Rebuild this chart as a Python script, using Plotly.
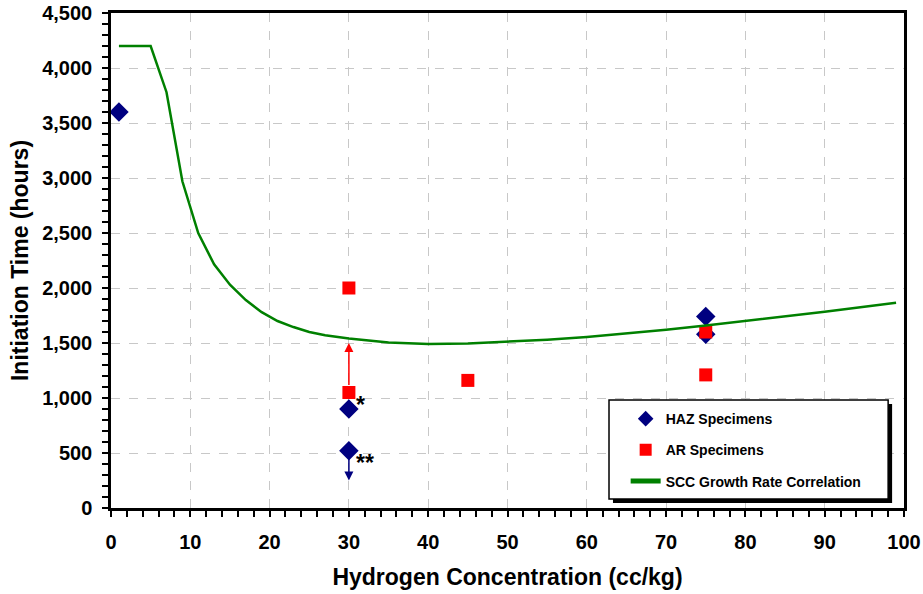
import plotly.graph_objects as go

# Hydrogen concentration (cc/kg) vs. initiation time (hours)
haz_h2 = [1, 30, 30, 75, 75]
haz_time = [3600, 900, 520, 1740, 1580]

ar_h2 = [30, 30, 45, 75, 75]
ar_time = [2000, 1050, 1160, 1600, 1210]

# SCC growth-rate based correlation curve
corr_h2 = [1, 5, 7, 9, 11, 13, 15, 17, 19, 21, 23, 25, 27, 30, 35, 40, 45,
           50, 55, 60, 65, 70, 75, 80, 85, 90, 95, 99]
corr_time = [4200, 4200, 3780, 2970, 2500, 2215, 2030, 1890, 1780, 1700, 1645,
             1600, 1570, 1540, 1505, 1490, 1495, 1510, 1530, 1555, 1585, 1620,
             1660, 1700, 1740, 1785, 1830, 1865]

# Run-out indicators: (h2, from, to, colour)
arrows = [
    (30, 1050, 1500, "red"),
    (30, 520, 250, "#000080"),
]
# Footnote marks next to specific HAZ results
notes = [(30, 900, "*"), (30, 520, "**")]
note_yshift = {"*": 4, "**": -12}

FONT = "Liberation Sans, Arial, sans-serif"

fig = go.Figure()
fig.add_trace(go.Scatter(
    x=haz_h2, y=haz_time, mode="markers", name="HAZ Specimens",
    marker=dict(symbol="diamond", size=15, color="#000080"),
    legendgroup="a"))
fig.add_trace(go.Scatter(
    x=ar_h2, y=ar_time, mode="markers", name="AR Specimens",
    marker=dict(symbol="square", size=13, color="#ff0000"),
    legendgroup="b"))
fig.add_trace(go.Scatter(
    x=corr_h2, y=corr_time, mode="lines", name="SCC Growth Rate Correlation",
    line=dict(color="#008000", width=2.5), legendgroup="c"))

for h, y0, y1, col in arrows:
    fig.add_annotation(x=h, y=y1, ax=h, ay=y0, xref="x", yref="y",
                       axref="x", ayref="y", text="", showarrow=True,
                       arrowhead=2, arrowsize=1.2, arrowwidth=1.5,
                       arrowcolor=col, startstandoff=6)

for h, y, t in notes:
    fig.add_annotation(x=h, y=y, text=t, showarrow=False, xanchor="left",
                       yanchor="middle", xshift=5, yshift=note_yshift[t],
                       font=dict(family=FONT, size=23, color="black",
                                 weight="bold"))

# Legend frame with a drop shadow (the legend itself sits on top)
box = dict(x0=0.628, x1=0.980, y0=0.018, y1=0.218)
shadow_dx, shadow_dy = 0.005, 0.008
fig.add_shape(type="rect", xref="paper", yref="paper",
              x0=box["x0"] + shadow_dx, x1=box["x1"] + shadow_dx,
              y0=box["y0"] - shadow_dy, y1=box["y1"] - shadow_dy,
              fillcolor="black", line=dict(width=0), layer="above")
fig.add_shape(type="rect", xref="paper", yref="paper", **box,
              fillcolor="white", line=dict(color="black", width=1.5),
              layer="above")

axis_common = dict(
    showline=True, linecolor="black", linewidth=2.5, mirror=True,
    ticks="outside", tickcolor="black", tickwidth=2, ticklen=6,
    showgrid=True, gridcolor="#c8c8c8", griddash="dash", gridwidth=1,
    zeroline=False, automargin=False,
    tickfont=dict(family=FONT, size=20, color="black", weight="bold"),
)

fig.update_xaxes(
    range=[0, 100], dtick=10, **axis_common, ticklabelstandoff=8,
    minor=dict(dtick=2, ticks="outside", ticklen=6, tickwidth=2,
               tickcolor="black", showgrid=False),
    title=dict(text="Hydrogen Concentration (cc/kg)", standoff=18,
               font=dict(family=FONT, size=23, color="black", weight="bold")),
)
fig.update_yaxes(
    range=[0, 4500], dtick=500, tickformat=",", **axis_common,
    ticklabelstandoff=6,
    minor=dict(dtick=100, ticks="outside", ticklen=6, tickwidth=2,
               tickcolor="black", showgrid=False),
    title=dict(text="Initiation Time (hours)", standoff=8,
               font=dict(family=FONT, size=23, color="black", weight="bold")),
)

fig.update_layout(
    width=923, height=594,
    margin=dict(l=111, r=19, t=13, b=86),
    plot_bgcolor="white", paper_bgcolor="white",
    showlegend=True,
    legend=dict(
        x=0.649, y=0.212, xanchor="left", yanchor="top",
        bgcolor="rgba(0,0,0,0)", borderwidth=0,
        tracegroupgap=10, itemsizing="constant",
        font=dict(family=FONT, size=14, color="black", weight="bold"),
    ),
)

fig.write_html("out.html")
